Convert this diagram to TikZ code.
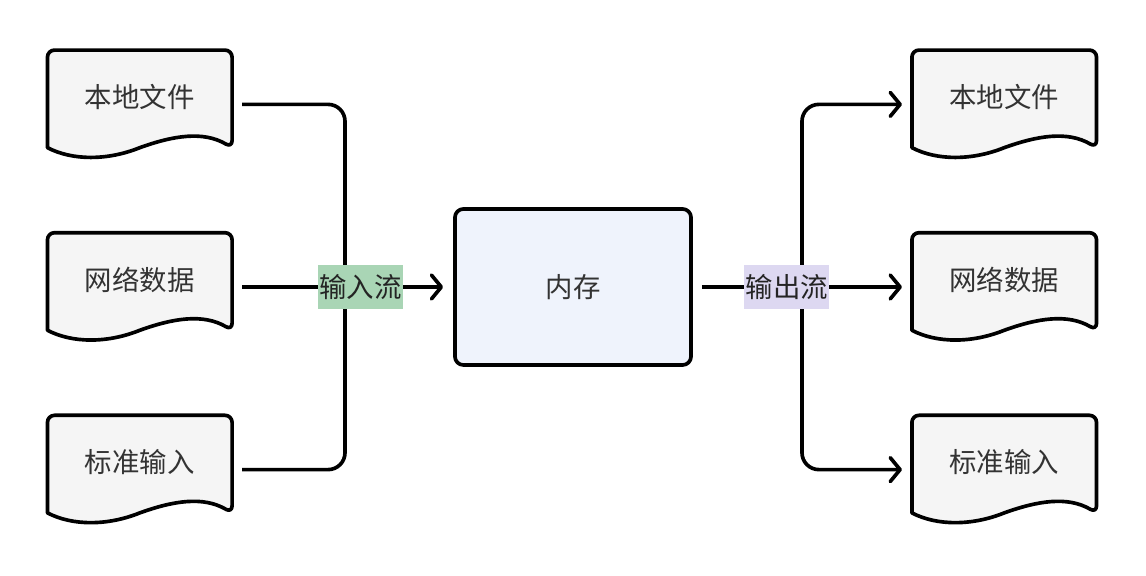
\documentclass[tikz,border=0pt]{standalone}
\usepackage{fontspec}
\setmainfont{Noto Sans CJK SC}
\usetikzlibrary{arrows.meta,calc,positioning,backgrounds}
\definecolor{IoText}{HTML}{333333}
\definecolor{IoLine}{HTML}{000000}
\definecolor{IoDocFill}{HTML}{F5F5F5}
\definecolor{IoMemFill}{HTML}{EFF3FC}
\definecolor{IoInFill}{HTML}{A9D5B5}
\definecolor{IoOutFill}{HTML}{DDD8F1}
\tikzset{
  io doc/.style={
    text=IoText,
    minimum width=4.6cm,
    minimum height=2.7cm,
    inner sep=0pt,
    text height=16pt,
    text depth=11.2pt,
    font=\fontsize{19.5}{22}\selectfont
  },
  io doc outline/.style={
    draw=IoLine,
    fill=IoDocFill,
    line width=2.6pt,
    line join=round
  },
  io memory/.style={
    draw=IoLine,
    fill=IoMemFill,
    text=IoText,
    line width=2.6pt,
    rounded corners=6pt,
    minimum width=5.9cm,
    minimum height=3.9cm,
    font=\fontsize{19.5}{22}\selectfont
  },
  io flow line/.style={draw=IoLine,line width=2.6pt,rounded corners=12pt},
  io flow/.style={io flow line,-{Straight Barb[length=7pt,width=17pt,round]}},
  io label/.style={
    text=IoText!70!black,
    sharp corners,
    inner xsep=1pt,
    inner ysep=6.5pt,
    font=\fontsize{19.5}{22}\selectfont
  },
  io label in/.style={io label,fill=IoInFill},
  io label out/.style={io label,fill=IoOutFill}
}
\begin{document}
\begin{tikzpicture}[x=0.025cm,y=-0.025cm]
  \useasboundingbox (0,0) rectangle (1146,576);

  \node[io memory] (mem) at (573,287) {内存};

  \node[io doc,left=5.525cm of mem] (ldoc2) {网络数据};
  \node[io doc,above=1.85cm of ldoc2] (ldoc1) {本地文件};
  \node[io doc,below=1.85cm of ldoc2] (ldoc3) {标准输入};

  \node[io doc,right=5.475cm of mem] (rdoc2) {网络数据};
  \node[io doc,above=1.85cm of rdoc2] (rdoc1) {本地文件};
  \node[io doc,below=1.85cm of rdoc2] (rdoc3) {标准输入};

  % document outlines behind the texts
  \begin{scope}[on background layer]
    \foreach \n in {ldoc1,ldoc2,ldoc3,rdoc1,rdoc2,rdoc3}
      \draw[io doc outline]
        ($(\n.south west)+(0,-11)$) [rounded corners=5pt] -- (\n.north west)
        -- (\n.north east) -- ($(\n.south east)+(0,-11)$) [sharp corners]
        .. controls ($(\n.south east)+(-29,-28)$) and ($(\n.south east)+(-59,-23)$) .. ($(\n.south)+(0,-11)$)
        .. controls ($(\n.south west)+(60,2)$) and ($(\n.south west)+(25,2)$) .. cycle;
  \end{scope}

  \coordinate (ljoin) at (345,287);
  \coordinate (rjoin) at (802,287);

  \draw[io flow line] ($(ldoc1.east)+(10,0)$) -| (ljoin);
  \draw[io flow line] ($(ldoc3.east)+(10,0)$) -| (ljoin);
  \draw[io flow] ($(ldoc2.east)+(10,0)$) -- node[io label in,pos=0.59] {输入流} ($(mem.west)+(-10,0)$);

  \draw[io flow] (rjoin) |- ($(rdoc1.west)+(-10,0)$);
  \draw[io flow] (rjoin) |- ($(rdoc3.west)+(-10,0)$);
  \draw[io flow] ($(mem.east)+(9,0)$) -- node[io label out,pos=0.425] {输出流} ($(rdoc2.west)+(-10,0)$);
\end{tikzpicture}
\end{document}
